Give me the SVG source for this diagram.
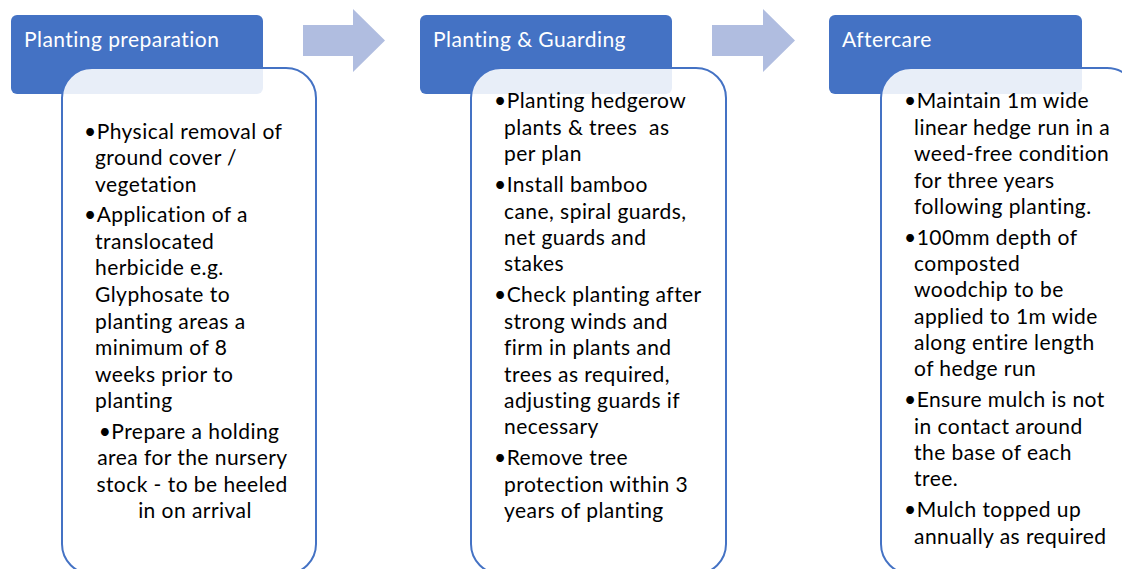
<svg xmlns="http://www.w3.org/2000/svg" width="1122" height="569" viewBox="0 0 1122 569">
<style>
.hdr{fill:#4472C4}
.body{fill:#FFFFFF;fill-opacity:0.88;stroke:#4472C4;stroke-width:2}
.ht{font-family:Lato,"Open Sans",sans-serif;font-size:21px;letter-spacing:0.45px;fill:#FFFFFF}
.bt{font-family:Lato,"Open Sans",sans-serif;font-size:21px;letter-spacing:0.45px;fill:#000000}
.arr{fill:#B0BDE0}
</style>
<rect width="1122" height="569" fill="#FFFFFF"/>
<g id="connectors">
<polygon class="arr" points="303,25 353,25 353,9 385,40.5 353,72 353,56 303,56"/>
<polygon class="arr" points="712,25 763,25 763,9 795,40.5 763,72 763,56 712,56"/>
</g>
<g id="step1">
<rect class="hdr" x="11" y="15" width="252" height="79" rx="6"/>
<text class="ht" x="24" y="47">Planting preparation</text>
<rect class="body" x="62" y="68" width="254" height="506" rx="30"/>
<text class="bt">
<tspan x="84" y="139">•Physical removal of</tspan>
<tspan x="95" y="165">ground cover /</tspan>
<tspan x="95" y="192">vegetation</tspan>
<tspan x="84" y="222">•Application of a</tspan>
<tspan x="95" y="249">translocated</tspan>
<tspan x="95" y="275">herbicide e.g.</tspan>
<tspan x="95" y="302">Glyphosate to</tspan>
<tspan x="95" y="329">planting areas a</tspan>
<tspan x="95" y="355">minimum of 8</tspan>
<tspan x="95" y="382">weeks prior to</tspan>
<tspan x="95" y="408">planting</tspan>
</text>
<text class="bt" text-anchor="middle">
<tspan x="192" y="439">•Prepare a holding</tspan>
<tspan x="195" y="465">area for the nursery</tspan>
<tspan x="195" y="492">stock - to be heeled</tspan>
<tspan x="195" y="518">in on arrival</tspan>
</text>
</g>
<g id="step2">
<rect class="hdr" x="420" y="15" width="252" height="79" rx="6"/>
<text class="ht" x="433" y="47">Planting &amp; Guarding</text>
<rect class="body" x="471" y="68" width="255" height="506" rx="30"/>
<text class="bt">
<tspan x="494" y="108">•Planting hedgerow</tspan>
<tspan x="504" y="135" xml:space="preserve">plants &amp; trees  as</tspan>
<tspan x="504" y="161">per plan</tspan>
<tspan x="494" y="192">•Install bamboo</tspan>
<tspan x="504" y="219">cane, spiral guards,</tspan>
<tspan x="504" y="245">net guards and</tspan>
<tspan x="504" y="271">stakes</tspan>
<tspan x="494" y="302">•Check planting after</tspan>
<tspan x="504" y="329">strong winds and</tspan>
<tspan x="504" y="355">firm in plants and</tspan>
<tspan x="504" y="382">trees as required,</tspan>
<tspan x="504" y="408">adjusting guards if</tspan>
<tspan x="504" y="434">necessary</tspan>
<tspan x="494" y="465">•Remove tree</tspan>
<tspan x="504" y="492">protection within 3</tspan>
<tspan x="504" y="518">years of planting</tspan>
</text>
</g>
<g id="step3">
<rect class="hdr" x="829" y="15" width="253" height="79" rx="6"/>
<text class="ht" x="842" y="47">Aftercare</text>
<rect class="body" x="881" y="68" width="256" height="506" rx="30"/>
<text class="bt">
<tspan x="904" y="108">•Maintain 1m wide</tspan>
<tspan x="914" y="135">linear hedge run in a</tspan>
<tspan x="914" y="161">weed-free condition</tspan>
<tspan x="914" y="188">for three years</tspan>
<tspan x="914" y="214">following planting.</tspan>
<tspan x="904" y="245">•100mm depth of</tspan>
<tspan x="914" y="271">composted</tspan>
<tspan x="914" y="297">woodchip to be</tspan>
<tspan x="914" y="324">applied to 1m wide</tspan>
<tspan x="914" y="350">along entire length</tspan>
<tspan x="914" y="376">of hedge run</tspan>
<tspan x="904" y="407">•Ensure mulch is not</tspan>
<tspan x="914" y="434">in contact around</tspan>
<tspan x="914" y="460">the base of each</tspan>
<tspan x="914" y="486">tree.</tspan>
<tspan x="904" y="517">•Mulch topped up</tspan>
<tspan x="914" y="544">annually as required</tspan>
</text>
</g>
</svg>
